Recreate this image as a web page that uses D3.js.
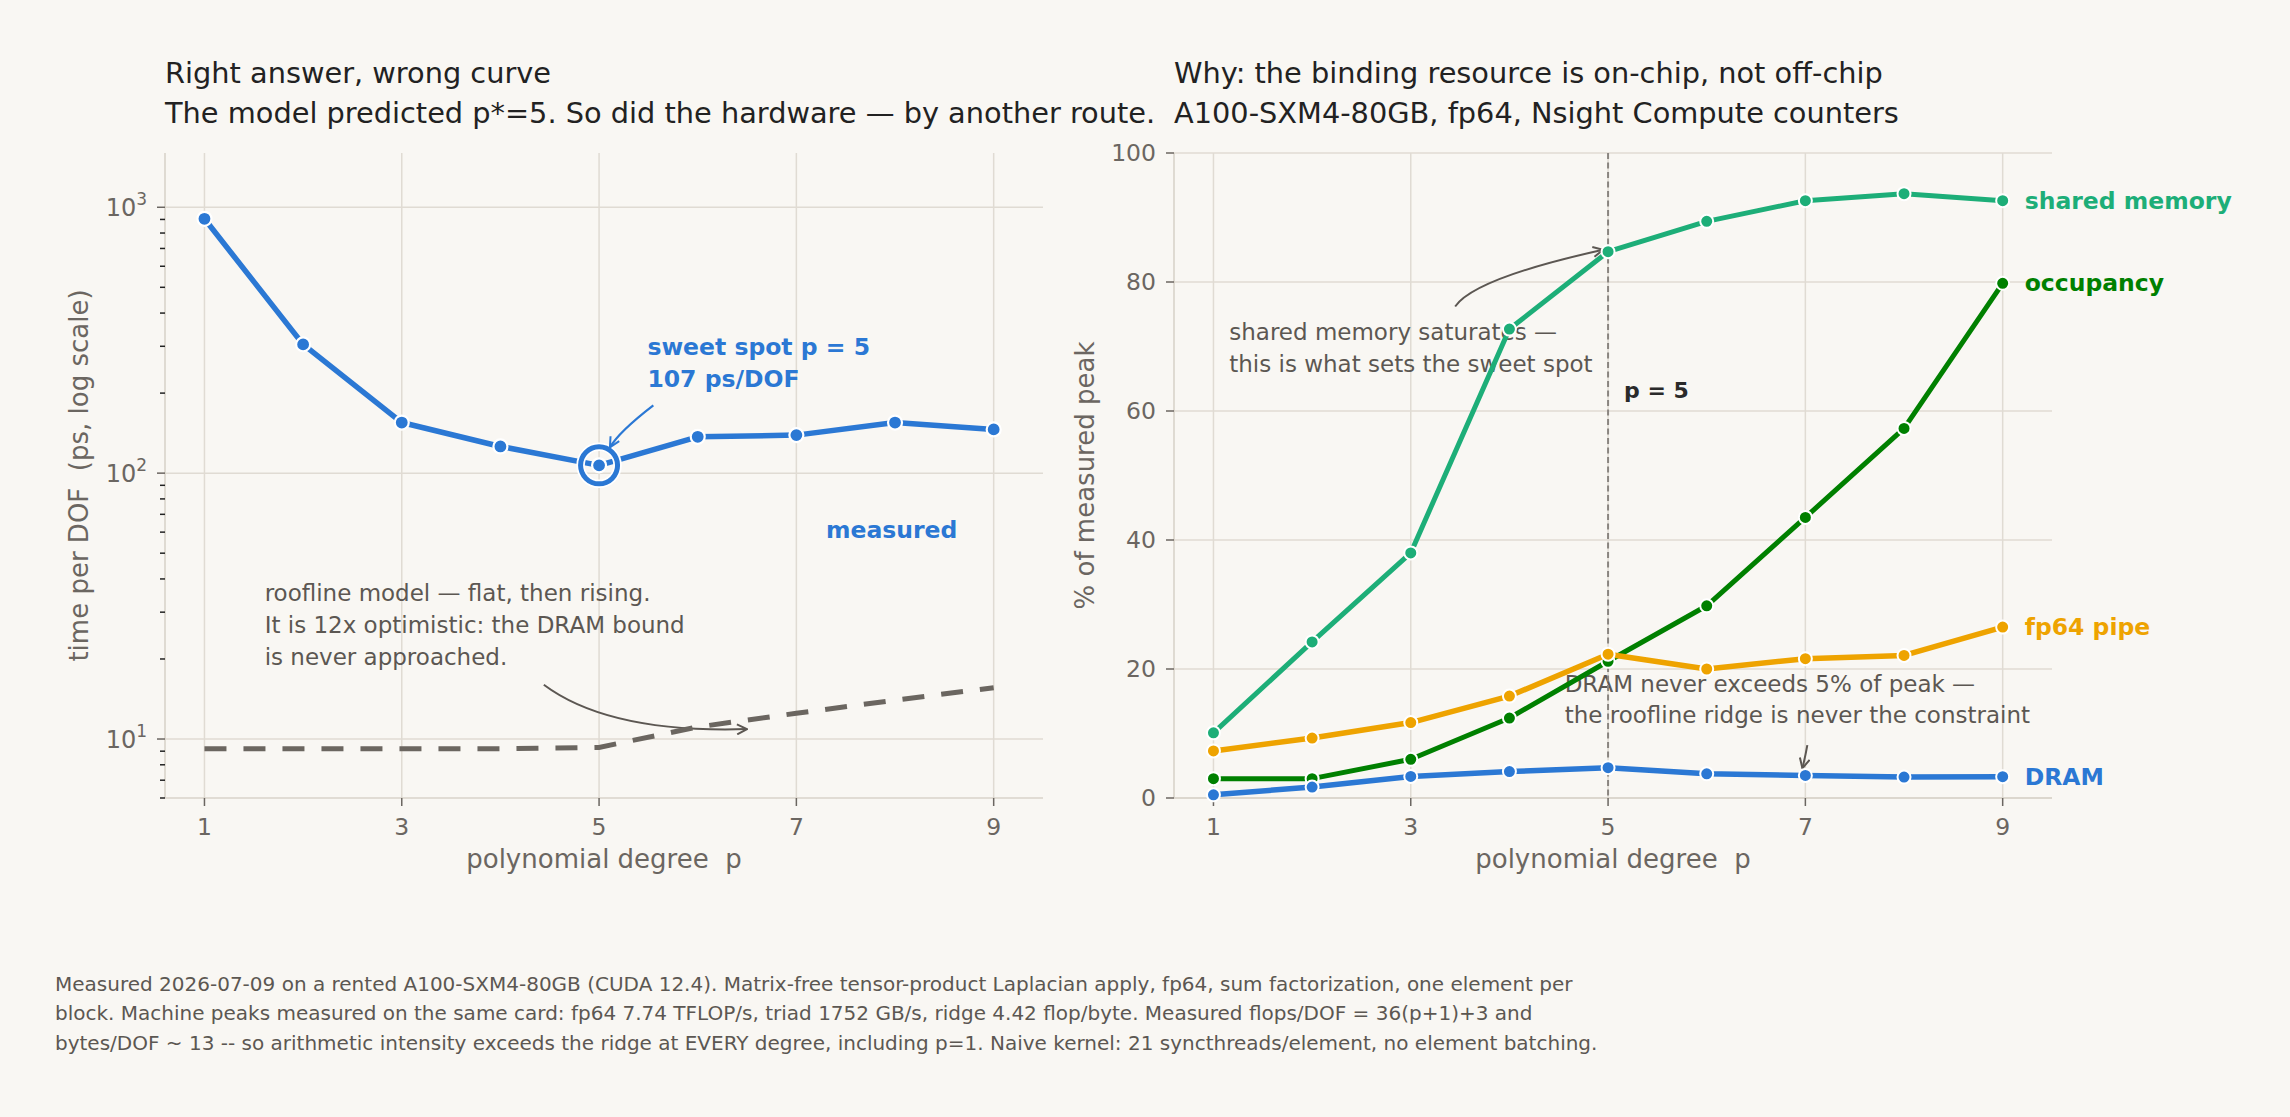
<!DOCTYPE html>
<html>
<head>
<meta charset="utf-8">
<script src="https://cdn.jsdelivr.net/npm/d3@7"></script>
<style>
  body { margin: 0; background: #f9f7f3; }
  svg { display: block; font-family: "DejaVu Sans", sans-serif; }
</style>
</head>
<body>
<svg id="chart" width="2290" height="1117"></svg>
<script>
// polynomial degrees
const degrees = [1, 2, 3, 4, 5, 6, 7, 8, 9];
const degreeTicks = [1, 3, 5, 7, 9];

// left panel: time per DOF (ps)
const measured = [905, 305, 155, 126, 107, 137, 139, 155, 146];
const roofline = [9.2, 9.2, 9.2, 9.2, 9.3, 11.1, 12.5, 14.0, 15.6];

// right panel: % of measured peak
const sharedMemory = [10.1, 24.2, 38.0, 72.7, 84.7, 89.4, 92.6, 93.7, 92.6];
const occupancy = [3.0, 3.0, 6.0, 12.4, 21.2, 29.8, 43.5, 57.3, 79.8];
const fp64Pipe = [7.3, 9.3, 11.7, 15.8, 22.3, 20.0, 21.6, 22.1, 26.5];
const dram = [0.5, 1.7, 3.35, 4.1, 4.7, 3.75, 3.5, 3.25, 3.3];
const pctTicks = [0, 20, 40, 60, 80, 100];

const footnote = [
  "Measured 2026-07-09 on a rented A100-SXM4-80GB (CUDA 12.4). Matrix-free tensor-product Laplacian apply, fp64, sum factorization, one element per",
  "block. Machine peaks measured on the same card: fp64 7.74 TFLOP/s, triad 1752 GB/s, ridge 4.42 flop/byte. Measured flops/DOF = 36(p+1)+3 and",
  "bytes/DOF ~ 13 -- so arithmetic intensity exceeds the ridge at EVERY degree, including p=1. Naive kernel: 21 syncthreads/element, no element batching."
];

const BLUE = "#2b78d4", TEAL = "#1dae78", GREEN = "#008000", ORANGE = "#eea300";
const GRID = "#e0dbd3", SPINE = "#d9d3ca", TICK = "#6b6661", NOTE = "#5c5752";

const svg = d3.select("#chart");
svg.append("rect").attr("width", 2290).attr("height", 1117).attr("fill", "#f9f7f3");

const plotTop = 153, plotBottom = 798;

const xL = d3.scaleLinear().domain([0.6, 9.5]).range([165, 1043]);
const yL = d3.scaleLog().domain([6, 1600]).range([plotBottom, plotTop]);
const xR = d3.scaleLinear().domain([0.6, 9.5]).range([1174, 2052]);
const yR = d3.scaleLinear().domain([0, 100]).range([plotBottom, plotTop]);

// arrow heads
const defs = svg.append("defs");
function head(id, color) {
  defs.append("marker")
    .attr("id", id)
    .attr("viewBox", "0 0 12 12")
    .attr("refX", 11).attr("refY", 6)
    .attr("markerWidth", 12).attr("markerHeight", 12)
    .attr("markerUnits", "userSpaceOnUse")
    .attr("orient", "auto")
    .append("path")
    .attr("d", "M1,1 L11,6 L1,11")
    .attr("fill", "none")
    .attr("stroke", color)
    .attr("stroke-width", 2);
}
head("head-gray", NOTE);
head("head-blue", BLUE);

// shared frame: grid, spines, x axis
function frame(x, y, yGrid) {
  const g = svg.append("g");
  g.selectAll(".vg").data(degreeTicks).join("line")
    .attr("x1", d => x(d)).attr("x2", d => x(d))
    .attr("y1", plotTop).attr("y2", plotBottom)
    .attr("stroke", GRID).attr("stroke-width", 1.5);
  g.selectAll(".hg").data(yGrid).join("line")
    .attr("x1", x.range()[0]).attr("x2", x.range()[1])
    .attr("y1", d => y(d)).attr("y2", d => y(d))
    .attr("stroke", GRID).attr("stroke-width", 1.5);
  // spines
  g.append("line")
    .attr("x1", x.range()[0]).attr("x2", x.range()[0])
    .attr("y1", plotTop).attr("y2", plotBottom)
    .attr("stroke", SPINE).attr("stroke-width", 1.6);
  g.append("line")
    .attr("x1", x.range()[0]).attr("x2", x.range()[1])
    .attr("y1", plotBottom).attr("y2", plotBottom)
    .attr("stroke", SPINE).attr("stroke-width", 1.6);
  // x ticks
  g.selectAll(".xt").data(degreeTicks).join("line")
    .attr("x1", d => x(d)).attr("x2", d => x(d))
    .attr("y1", plotBottom).attr("y2", plotBottom + 8)
    .attr("stroke", TICK).attr("stroke-width", 1.5);
  g.selectAll(".xl").data(degreeTicks).join("text")
    .attr("x", d => x(d)).attr("y", 835)
    .attr("text-anchor", "middle")
    .attr("font-size", 23.5).attr("fill", TICK)
    .text(d => d);
  g.append("text")
    .attr("x", (x.range()[0] + x.range()[1]) / 2).attr("y", 868)
    .attr("text-anchor", "middle")
    .attr("font-size", 26).attr("fill", TICK)
    .style("white-space", "pre")
    .text("polynomial degree  p");
  return g;
}

// ---------------- left panel ----------------
const yMajorL = [10, 100, 1000];
const yMinorL = yL.ticks().filter(v => !yMajorL.includes(v));
const gl = frame(xL, yL, yMajorL);

gl.selectAll(".ymin").data(yMinorL).join("line")
  .attr("x1", 160).attr("x2", 165)
  .attr("y1", d => yL(d)).attr("y2", d => yL(d))
  .attr("stroke", "#222").attr("stroke-width", 1.5);
gl.selectAll(".ymaj").data(yMajorL).join("line")
  .attr("x1", 157).attr("x2", 165)
  .attr("y1", d => yL(d)).attr("y2", d => yL(d))
  .attr("stroke", TICK).attr("stroke-width", 1.5);
const ylab = gl.selectAll(".ylab").data(yMajorL).join("text")
  .attr("x", 147).attr("y", d => yL(d) + 9)
  .attr("text-anchor", "end")
  .attr("font-size", 24).attr("fill", TICK);
ylab.append("tspan").text("10");
ylab.append("tspan").attr("dy", -11).attr("font-size", 17).text(d => Math.round(Math.log10(d)));

gl.append("text")
  .attr("transform", `translate(88, ${(plotTop + plotBottom) / 2}) rotate(-90)`)
  .attr("text-anchor", "middle")
  .attr("font-size", 26).attr("fill", TICK)
  .style("white-space", "pre")
  .text("time per DOF  (ps, log scale)");

// annotation texts
gl.selectAll(".roofnote").data([
  "roofline model — flat, then rising.",
  "It is 12x optimistic: the DRAM bound",
  "is never approached."
]).join("text")
  .attr("x", xL(1.61)).attr("y", (d, i) => yL(33) + i * 31.7)
  .attr("font-size", 23).attr("fill", NOTE)
  .text(d => d);

gl.append("path")
  .attr("d", `M${xL(4.44)},${yL(16)} Q${xL(5.1)},${yL(10.5)} ${xL(6.5)},${yL(10.9)}`)
  .attr("fill", "none").attr("stroke", NOTE).attr("stroke-width", 2)
  .attr("marker-end", "url(#head-gray)");

gl.selectAll(".sweet").data(["sweet spot p = 5", "107 ps/DOF"]).join("text")
  .attr("x", xL(5.49)).attr("y", (d, i) => yL(279) + i * 32)
  .attr("font-size", 23.5).attr("font-weight", "bold").attr("fill", BLUE)
  .text(d => d);

gl.append("text")
  .attr("x", xL(7.3)).attr("y", yL(61))
  .attr("dominant-baseline", "central")
  .attr("font-size", 23.5).attr("font-weight", "bold").attr("fill", BLUE)
  .text("measured");

const lineL = d3.line().x((d, i) => xL(degrees[i])).y(d => yL(d));

gl.append("path").datum(roofline)
  .attr("d", lineL)
  .attr("fill", "none").attr("stroke", "#6b6660").attr("stroke-width", 5)
  .attr("stroke-dasharray", "22,17");

gl.append("path").datum(measured)
  .attr("d", lineL)
  .attr("fill", "none").attr("stroke", BLUE).attr("stroke-width", 5.5)
  .attr("stroke-linejoin", "round");

gl.selectAll(".mdot").data(measured).join("circle")
  .attr("cx", (d, i) => xL(degrees[i])).attr("cy", d => yL(d))
  .attr("r", 7)
  .attr("fill", BLUE).attr("stroke", "#fff").attr("stroke-width", 2.2);

// sweet spot ring
const best = measured[4];
gl.append("circle")
  .attr("cx", xL(5)).attr("cy", yL(best)).attr("r", 18.5)
  .attr("fill", "none").attr("stroke", "#fff").attr("stroke-width", 8.5);
gl.append("circle")
  .attr("cx", xL(5)).attr("cy", yL(best)).attr("r", 18.5)
  .attr("fill", "none").attr("stroke", BLUE).attr("stroke-width", 5);

gl.append("path")
  .attr("d", `M${xL(5.55)},${yL(180)} Q${xL(5.2)},${yL(143)} ${xL(5.11)},${yL(125)}`)
  .attr("fill", "none").attr("stroke", BLUE).attr("stroke-width", 2.2)
  .attr("marker-end", "url(#head-blue)");

// titles
svg.selectAll(".tl").data([
  "Right answer, wrong curve",
  "The model predicted p*=5. So did the hardware — by another route."
]).join("text")
  .attr("x", 165).attr("y", (d, i) => 83 + i * 40)
  .attr("font-size", 28.8).attr("fill", "#222")
  .text(d => d);

// ---------------- right panel ----------------
const gr = frame(xR, yR, pctTicks);

gr.selectAll(".yt").data(pctTicks).join("line")
  .attr("x1", 1166).attr("x2", 1174)
  .attr("y1", d => yR(d)).attr("y2", d => yR(d))
  .attr("stroke", TICK).attr("stroke-width", 1.5);
gr.selectAll(".ytl").data(pctTicks).join("text")
  .attr("x", 1156).attr("y", d => yR(d))
  .attr("dominant-baseline", "central")
  .attr("text-anchor", "end")
  .attr("font-size", 23.5).attr("fill", TICK)
  .text(d => d);

gr.append("text")
  .attr("transform", `translate(1094, ${(plotTop + plotBottom) / 2}) rotate(-90)`)
  .attr("text-anchor", "middle")
  .attr("font-size", 26).attr("fill", TICK)
  .text("% of measured peak");

// annotations (under the lines)
gr.selectAll(".smnote").data([
  "shared memory saturates —",
  "this is what sets the sweet spot"
]).join("text")
  .attr("x", xR(1.16)).attr("y", (d, i) => yR(71) + i * 31.7)
  .attr("font-size", 23).attr("fill", NOTE)
  .text(d => d);

gr.selectAll(".dnote").data([
  "DRAM never exceeds 5% of peak —",
  "the roofline ridge is never the constraint"
]).join("text")
  .attr("x", xR(4.56)).attr("y", (d, i) => yR(16.5) + i * 31.7)
  .attr("font-size", 23).attr("fill", NOTE)
  .text(d => d);

gr.append("line")
  .attr("x1", xR(5)).attr("x2", xR(5))
  .attr("y1", plotTop).attr("y2", plotBottom)
  .attr("stroke", "#8a8580").attr("stroke-width", 2)
  .attr("stroke-dasharray", "6,3.5");

gr.append("text")
  .attr("x", xR(5) + 16).attr("y", yR(62))
  .attr("font-size", 22).attr("font-weight", "bold").attr("fill", "#2a2a2a")
  .text("p = 5");

gr.append("path")
  .attr("d", `M${xR(3.45)},${yR(76.2)} Q${xR(3.65)},${yR(80.6)} ${xR(4.95)},${yR(85.0)}`)
  .attr("fill", "none").attr("stroke", NOTE).attr("stroke-width", 2)
  .attr("marker-end", "url(#head-gray)");

gr.append("path")
  .attr("d", `M${xR(7.02)},${yR(8.2)} Q${xR(7.0)},${yR(6.5)} ${xR(6.97)},${yR(4.6)}`)
  .attr("fill", "none").attr("stroke", NOTE).attr("stroke-width", 2)
  .attr("marker-end", "url(#head-gray)");

const lineR = d3.line().x((d, i) => xR(degrees[i])).y(d => yR(d));

const series = [
  { name: "shared memory", values: sharedMemory, color: TEAL, width: 5 },
  { name: "occupancy", values: occupancy, color: GREEN, width: 5 },
  { name: "fp64 pipe", values: fp64Pipe, color: ORANGE, width: 5.5 },
  { name: "DRAM", values: dram, color: BLUE, width: 5.5 }
];

series.forEach(s => {
  gr.append("path").datum(s.values)
    .attr("d", lineR)
    .attr("fill", "none").attr("stroke", s.color).attr("stroke-width", s.width)
    .attr("stroke-linejoin", "round");
  gr.selectAll(null).data(s.values).join("circle")
    .attr("cx", (d, i) => xR(degrees[i])).attr("cy", d => yR(d))
    .attr("r", 6.5)
    .attr("fill", s.color).attr("stroke", "#fff").attr("stroke-width", 2);
  gr.append("text")
    .attr("x", xR(9) + 22).attr("y", yR(s.values[s.values.length - 1]))
    .attr("dominant-baseline", "central")
    .attr("font-size", 23.5).attr("font-weight", "bold").attr("fill", s.color)
    .text(s.name);
});

svg.selectAll(".tr").data([
  "Why: the binding resource is on-chip, not off-chip",
  "A100-SXM4-80GB, fp64, Nsight Compute counters"
]).join("text")
  .attr("x", 1174).attr("y", (d, i) => 83 + i * 40)
  .attr("font-size", 28.8).attr("fill", "#222")
  .text(d => d);

// footnote
svg.selectAll(".foot").data(footnote).join("text")
  .attr("x", 55).attr("y", (d, i) => 991 + i * 29.3)
  .attr("font-size", 20).attr("fill", NOTE)
  .text(d => d);
</script>
</body>
</html>
